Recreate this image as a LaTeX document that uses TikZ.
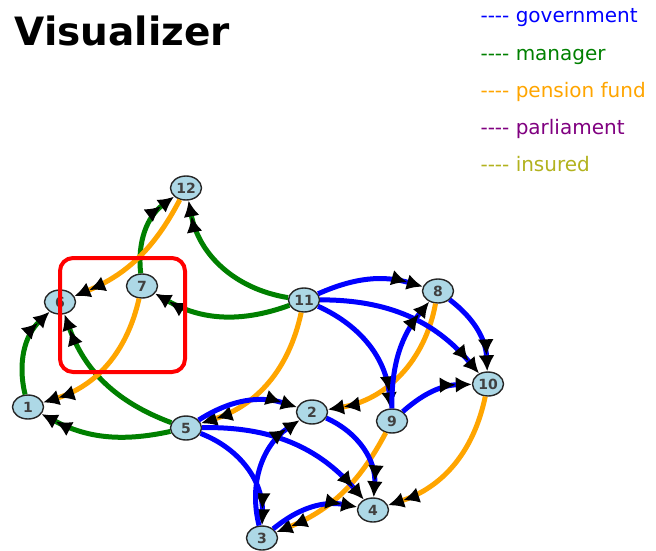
\documentclass[tikz,border=0pt]{standalone}
\usepackage{fontspec}
\setmainfont{DejaVu Sans}
\usetikzlibrary{arrows.meta}
\usetikzlibrary{shapes.geometric}
\definecolor{govblue}{RGB}{0,0,255}
\definecolor{mangreen}{RGB}{0,128,0}
\definecolor{penorange}{RGB}{255,165,0}
\definecolor{parlpurple}{RGB}{128,0,128}
\definecolor{insolive}{RGB}{178,178,30}
\definecolor{nodeblue}{RGB}{173,216,230}

\begin{document}
\begin{tikzpicture}[x=1pt,y=-1pt,
  vertex/.style={ellipse,draw=black!85,line width=1.4pt,fill=nodeblue,minimum width=31pt,minimum height=24pt,inner sep=0pt,font=\bfseries\fontsize{14}{14}\selectfont,text=black!75},
  link/.style={line width=5pt,-{Latex[color=black,length=16pt,width=16pt]Latex[color=black,length=16pt,width=16pt]},bend left=#1},
  link/.default=25,
  legend/.style={anchor=base west,font=\fontsize{20}{20}\selectfont}]
\useasboundingbox (0,0) rectangle (656,550);

\node [anchor=base west,font=\bfseries\fontsize{39}{39}\selectfont] (title) at (11,45) {Visualizer};
\node [legend,text=govblue] (leggov) at (477,22) {{-}{-}{-}{-} government};
\node [legend,text=mangreen] (legman) at (477,60) {{-}{-}{-}{-} manager};
\node [legend,text=penorange] (legpen) at (477,97) {{-}{-}{-}{-} pension fund};
\node [legend,text=parlpurple] (legparl) at (477,134) {{-}{-}{-}{-} parliament};
\node [legend,text=insolive] (legins) at (477,171) {{-}{-}{-}{-} insured};

\node [vertex] (n12) at (186,188) {12};
\node [vertex] (n6) at (60,302) {6};
\node [vertex] (n7) at (142,286) {7};
\node [vertex] (n11) at (304,300) {11};
\node [vertex] (n8) at (438,291) {8};
\node [vertex] (n10) at (488,384) {10};
\node [vertex] (n1) at (28,407) {1};
\node [vertex] (n5) at (186,428) {5};
\node [vertex] (n2) at (312,412) {2};
\node [vertex] (n9) at (392,421) {9};
\node [vertex] (n4) at (373,510) {4};
\node [vertex] (n3) at (262,538) {3};

% manager
\draw [link=30,mangreen] (n7) to (n12);
\draw [link=35,mangreen] (n11) to (n12);
\draw [link=25,mangreen] (n11) to (n7);
\draw [link=30,mangreen] (n1) to (n6);
\draw [link=25,mangreen] (n5) to (n6);
\draw [link=20,mangreen] (n5) to (n1);

% pension fund
\draw [link=20,penorange] (n12) to (n6);
\draw [link=30,penorange] (n7) to (n1);
\draw [link=30,penorange] (n11) to (n5);
\draw [link=35,penorange] (n8) to (n2);
\draw [link=20,penorange] (n9) to (n3);
\draw [link=30,penorange] (n10) to (n4);

% government
\draw [link=20,govblue] (n11) to (n8);
\draw [link=25,govblue] (n11) to (n10);
\draw [link=30,govblue] (n11) to (n9);
\draw [link=20,govblue] (n9) to (n8);
\draw [link=25,govblue] (n8) to (n10);
\draw [link=20,govblue] (n9) to (n10);
\draw [link=25,govblue] (n5) to (n2);
\draw [link=25,govblue] (n5) to (n4);
\draw [link=35,govblue] (n5) to (n3);
\draw [link=35,govblue] (n3) to (n2);
\draw [link=35,govblue] (n2) to (n4);
\draw [link=25,govblue] (n3) to (n4);

\draw [red,line width=4pt,rounded corners=13pt] (60,258) rectangle (185,372);

\end{tikzpicture}
\end{document}
